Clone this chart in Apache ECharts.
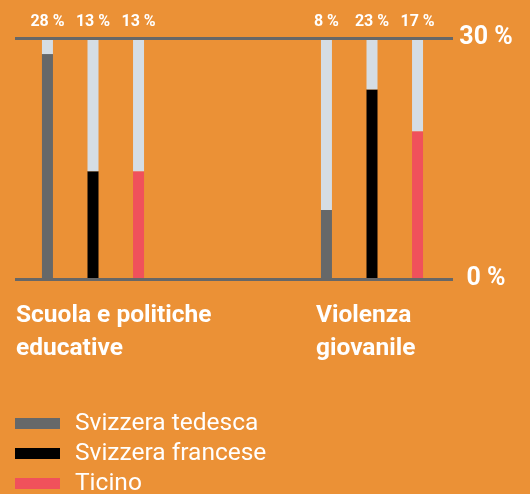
<!DOCTYPE html>
<html>
<head>
<meta charset="utf-8">
<script src="https://cdn.jsdelivr.net/npm/echarts@6/dist/echarts.min.js"></script>
<style>
html,body{margin:0;padding:0;background:#EB9136;}
#c{width:530px;height:494px;}
</style>
</head>
<body>
<div id="c"></div>
<script>
// ---- data ----
const categories = ['Scuola e politiche\neducative', 'Violenza\ngiovanile'];
const seriesNames = ['Svizzera tedesca', 'Svizzera francese', 'Ticino'];
const tedesca = [28, 8.6];
const francese = [13.4, 23.6];
const ticino = [13.4, 18.4];
const tedescaLabels = ['28 %', '8 %'];
const franceseLabels = ['13 %', '23 %'];
const ticinoLabels = ['13 %', '17 %'];
const axisMax = 30;
const axisTicks = [0, 30];

// ---- styles ----
const BG = '#EB9136';
const REST = '#D5DDE4';
const LINE = '#676767';
const colors = ['#666869', '#000000', '#F0515B'];
const FONT = 'Roboto';

const valueSets = [tedesca, francese, ticino];
const labelSets = [tedescaLabels, franceseLabels, ticinoLabels];

const series = [];
valueSets.forEach((vals, i) => {
  const key = 's' + i;
  series.push({
    name: seriesNames[i], type: 'bar', stack: key,
    xAxisIndex: 1, yAxisIndex: 1, clip: false,
    barWidth: 11, barGap: '314%',
    itemStyle: { color: colors[i] },
    data: vals
  });
  series.push({
    name: key + '_rest', type: 'bar', stack: key,
    xAxisIndex: 1, yAxisIndex: 1, clip: false,
    barWidth: 11, barGap: '314%',
    itemStyle: { color: REST },
    label: {
      show: true, position: 'top', distance: 8,
      color: '#fff', fontFamily: FONT, fontWeight: 'bold', fontSize: 16,
      formatter: p => labelSets[i][p.dataIndex]
    },
    data: vals.map(v => axisMax - v)
  });
});

const titleLefts = [11, 311];
const chart = echarts.init(document.getElementById('c'), null, { renderer: 'canvas' });
chart.setOption({
  backgroundColor: BG,
  animation: false,
  title: categories.map((c, i) => ({
    text: c, left: titleLefts[i], top: 294,
    textStyle: { color: '#fff', fontFamily: FONT, fontWeight: 'bold', fontSize: 24.5, lineHeight: 33 }
  })),
  legend: {
    data: seriesNames, orient: 'vertical', left: 15, top: 408.5, height: 200, padding: 0,
    icon: 'rect', itemWidth: 45, itemHeight: 11, itemGap: 0,
    textStyle: { color: '#fff', fontFamily: FONT, fontSize: 24.5, lineHeight: 30, padding: [0, 0, 0, 10] }
  },
  grid: [
    { left: 15, width: 438, top: 38, height: 241 },
    { left: 93, width: 279, top: 38, height: 241 }
  ],
  xAxis: [
    { gridIndex: 0, type: 'value', min: 0, max: 1, show: false },
    { gridIndex: 1, type: 'category', data: categories, boundaryGap: false, show: false }
  ],
  yAxis: [
    { gridIndex: 0, type: 'value', min: axisTicks[0], max: axisTicks[1], interval: axisTicks[1] - axisTicks[0],
      position: 'right', z: 5,
      axisLine: { show: false }, axisTick: { show: false },
      splitLine: { show: true, lineStyle: { color: LINE, width: 3 } },
      axisLabel: { margin: 33, align: 'center', color: '#fff', fontFamily: FONT, fontWeight: 'bold', fontSize: 25,
        formatter: v => v + ' %' } },
    { gridIndex: 1, type: 'value', min: 0, max: axisMax, show: false }
  ],
  series: series
});
</script>
</body>
</html>
